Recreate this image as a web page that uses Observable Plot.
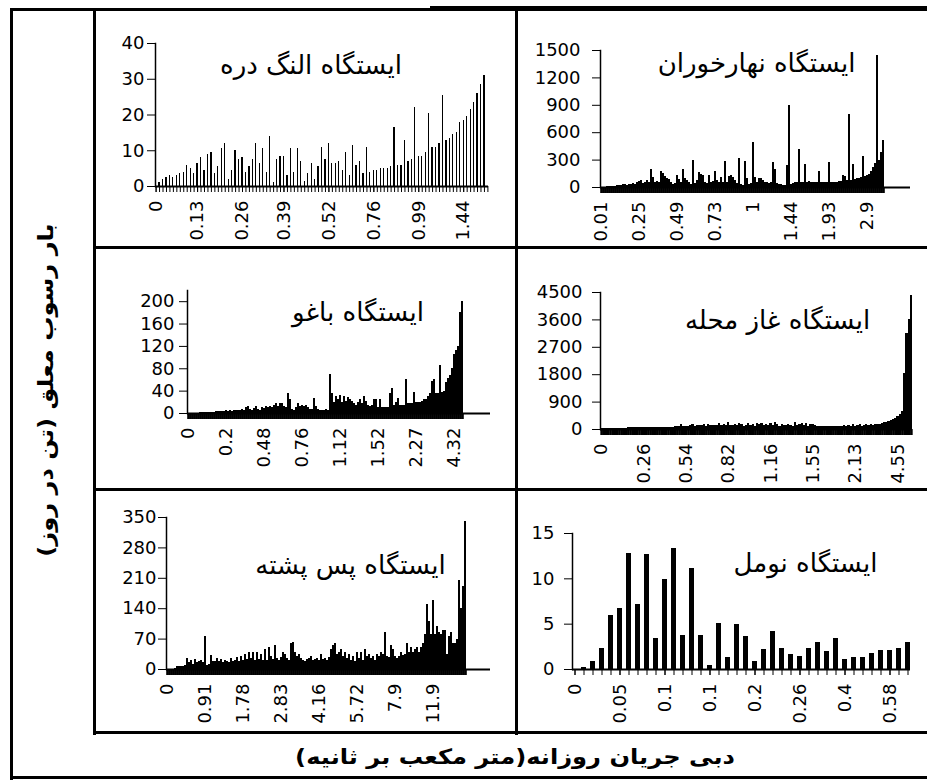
<!DOCTYPE html>
<html><head><meta charset="utf-8">
<script src="https://cdn.jsdelivr.net/npm/d3@7"></script>
<script src="https://cdn.jsdelivr.net/npm/@observablehq/plot@0.6"></script>
<style>
body{margin:0;background:#fff;}
#root{position:relative;width:927px;height:782px;overflow:hidden;background:#fff;}
.ln{position:absolute;background:#000;z-index:5;}
.pn{position:absolute;}
.ttl{position:absolute;font-family:"DejaVu Sans",sans-serif;font-weight:bold;color:#000;white-space:nowrap;}
</style></head><body><div id="root"></div>
<script>
// ---- data ----
const alangTitle = "ایستگاه النگ دره";
const alangLabels = ["0","0.13","0.26","0.39","0.52","0.76","0.99","1.44"];
const alangLabelIdx = [0,12,25,37,50,63,76,89];
const alangValues = [0.5,1,2,2.5,3,2.5,3,3.5,4,6,5,3.5,6.5,8,4.5,9,9.5,3.5,5.5,10.5,12,2,4.5,10,7.5,8,4,5.5,7.5,12,6.5,10.5,4,14,1,7.5,8.5,8.5,3,10.5,4,10.5,7,1.5,3.5,6.5,2,5.5,11,7.5,12,6.5,6.5,7,4.5,9.5,3,11.5,6,7,3.5,11,4,4.5,4.5,5,5,5,5.5,16.5,6,6,13,7,7.5,22,8.5,8.5,9.5,20.5,11,11,12,25.5,13,13.5,14.5,15,18,18.5,19.5,21.5,23.5,26,28.5,31,0];
const alangTicks = [0,10,20,30,40];

const naharTitle = "ایستگاه نهارخوران";
const naharLabels = ["0.01","0.25","0.49","0.73","1","1.44","1.93","2.9"];
const naharLabelIdx = [0,19,38,57,76,95,114,133];
const naharValues = [5,5,5,8,8,10,10,12,20,25,20,30,30,25,35,30,40,30,50,70,75,40,60,80,50,200,110,60,70,50,180,150,120,100,90,60,30,40,130,90,60,200,100,80,50,30,300,40,80,160,140,130,50,40,130,60,70,180,80,60,110,50,290,60,120,130,110,80,40,320,30,20,290,100,30,40,490,110,50,100,100,80,60,50,40,50,270,200,40,30,30,20,20,240,900,30,40,60,50,420,60,50,250,50,70,50,50,50,50,180,50,50,55,55,270,60,60,60,60,65,70,130,120,80,800,80,250,90,100,100,110,340,120,130,140,180,220,260,1450,300,380,520];
const naharTicks = [0,300,600,900,1200,1500];

const baghoTitle = "ایستگاه باغو";
const baghoLabels = ["0","0.2","0.48","0.76","1.12","1.52","2.27","4.32"];
const baghoLabelIdx = [0,19,38,57,76,95,114,133];
const baghoValues = [0,0,0,0.5,0.5,0.5,1,1,1,1,1,1.5,1.5,2,4,3,4,3,4,5,4,5,4,5,6,5,6,8,5,10,12,8,6,9,12,7,6,10,9,12,10,12,10,14,18,12,18,18,12,10,35,25,8,5,10,18,12,15,12,15,10,8,8,27,12,8,6,5,6,7,6,70,35,20,30,25,33,20,30,22,28,25,22,18,15,20,25,18,30,22,15,12,15,25,25,10,25,10,10,10,10,35,45,15,20,27,15,15,15,60,18,18,18,38,20,20,20,22,25,25,30,35,58,60,35,35,85,38,40,55,62,68,80,105,112,120,180,200];
const baghoTicks = [0,40,80,120,160,200];

const ghazTitle = "ایستگاه غاز محله";
const ghazLabels = ["0","0.26","0.54","0.82","1.16","1.55","2.13","4.55"];
const ghazLabelIdx = [0,19,38,57,76,95,114,133];
const ghazValues = [20,20,20,20,20,20,20,20,20,20,20,25,60,55,65,60,70,60,65,55,70,60,65,70,60,75,70,65,80,70,75,80,75,85,90,100,150,90,110,100,120,150,110,130,140,120,160,110,150,130,120,140,120,200,130,180,120,220,140,130,170,120,210,150,100,130,200,120,180,110,200,150,210,120,180,140,200,130,220,150,110,170,130,120,180,140,110,220,130,160,200,120,190,110,150,180,120,110,100,110,100,100,110,100,110,100,110,100,100,120,110,120,100,150,110,120,160,110,130,150,120,170,140,150,160,180,200,220,240,260,300,330,370,420,480,600,1850,3150,3600,4400];
const ghazTicks = [0,900,1800,2700,3600,4500];

const pasTitle = "ایستگاه پس پشته";
const pasLabels = ["0","0.91","1.78","2.83","4.16","5.72","7.9","11.9"];
const pasLabelIdx = [0,19,38,57,76,95,114,133];
const pasValues = [0,0,1,1,2,6,8,8,8,10,25,15,20,12,22,15,18,20,15,77,10,12,32,18,18,25,18,22,15,20,18,16,25,18,20,28,18,30,20,35,22,38,25,38,20,40,22,35,20,45,20,50,30,22,55,25,20,28,40,35,25,20,60,62,40,30,35,25,20,18,22,25,30,20,22,25,20,35,22,25,20,28,45,55,60,35,40,45,30,40,25,35,20,30,18,40,25,40,20,45,30,35,25,30,20,35,30,40,35,85,30,28,55,45,30,25,30,40,32,35,60,40,50,40,45,50,40,50,60,80,150,110,80,160,80,100,85,80,90,90,35,75,85,60,60,70,205,140,190,340];
const pasTicks = [0,70,140,210,280,350];

const nomalTitle = "ایستگاه نومل";
const nomalLabels = ["0","0.05","0.1","0.1","0.2","0.26","0.4","0.58"];
const nomalLabelIdx = [0,5,10,15,20,25,30,35];
const nomalValues = [0.05,0.2,0.9,2.35,6.0,6.7,12.8,7.2,12.7,3.4,9.9,13.3,3.75,11.1,3.75,0.45,5.1,1.3,5.0,3.6,0.9,2.2,4.2,2.35,1.65,1.45,2.35,3.0,2.0,3.4,1.1,1.3,1.3,1.8,2.15,2.15,2.35,3.0];
const nomalTicks = [0,5,10,15];

const yTitle = "بار رسوب معلق (تن در روز)";
const xTitle = "دبی جریان روزانه(متر مکعب بر ثانیه)";

// ---- drawing ----
const root = document.getElementById("root");

function makePanel(c) {
  const N = c.values.length;
  const data = c.values.map((v, i) => ({i, v}));
  const fmt = i => c.labels[c.labelIdx.indexOf(i)];
  const svg = Plot.plot({
    width: c.w, height: c.h,
    marginLeft: c.ml, marginRight: c.mr, marginTop: c.mt, marginBottom: c.mb,
    style: {background: "transparent", color: "black", fontFamily: "DejaVu Sans, sans-serif", fontSize: "18px", overflow: "visible"},
    x: {type: "band", domain: d3.range(N), paddingInner: c.pad, paddingOuter: 0, align: 0},
    y: {domain: c.yDomain},
    marks: [
      Plot.barY(data, {x: "i", y: "v", fill: "black", shapeRendering: "crispEdges"}),
      Plot.axisX({ticks: d3.range(N), tickSize: 6, strokeWidth: c.tw, tickFormat: () => "", label: null}),
      Plot.axisX({ticks: c.labelIdx, tickFormat: fmt, tickRotate: -90, tickSize: 6, tickPadding: 8, label: null, fontSize: 18}),
      Plot.ruleY([0], {stroke: "black", strokeWidth: 2}),
      Plot.frame({anchor: "left", stroke: "black", strokeWidth: 1.5}),
      Plot.axisY({ticks: c.yTicks, tickSize: 8, tickPadding: c.ypad, label: null, fontSize: 18, tickFormat: d => String(d)}),
      Plot.text([c.title], {frameAnchor: "top", dx: c.dx, dy: c.dy, lineAnchor: "middle", fontSize: 26, fontFamily: "DejaVu Sans"})
    ]
  });
  const div = document.createElement("div");
  div.className = "pn";
  div.style.left = c.left + "px";
  div.style.top = c.top + "px";
  div.appendChild(svg);
  root.appendChild(div);
}

makePanel({title: alangTitle, labels: alangLabels, labelIdx: alangLabelIdx, values: alangValues, yTicks: alangTicks, yDomain: [0, 40],
  left: 95, top: 9, w: 422, h: 239, ml: 60, mr: 29, mt: 34, mb: 62, pad: 0.65, tw: 1, ypad: 3, dx: -11, dy: 22});
makePanel({title: naharTitle, labels: naharLabels, labelIdx: naharLabelIdx, values: naharValues, yTicks: naharTicks, yDomain: [0, 1500],
  left: 517, top: 9, w: 410, h: 239, ml: 83, mr: 17, mt: 41, mb: 61, pad: 0, tw: 2.6, ypad: 12, dx: 1, dy: 13});
makePanel({title: baghoTitle, labels: baghoLabels, labelIdx: baghoLabelIdx, values: baghoValues, yTicks: baghoTicks, yDomain: [0, 220],
  left: 95, top: 248, w: 422, h: 242, ml: 92, mr: 27, mt: 42, mb: 77, pad: 0, tw: 2.6, ypad: 5, dx: 19, dy: 22});
makePanel({title: ghazTitle, labels: ghazLabels, labelIdx: ghazLabelIdx, values: ghazValues, yTicks: ghazTicks, yDomain: [0, 4500],
  left: 517, top: 248, w: 410, h: 242, ml: 83, mr: 15, mt: 44, mb: 61, pad: 0, tw: 2.6, ypad: 10, dx: 21, dy: 28});
makePanel({title: pasTitle, labels: pasLabels, labelIdx: pasLabelIdx, values: pasValues, yTicks: pasTicks, yDomain: [0, 350],
  left: 95, top: 490, w: 422, h: 243, ml: 71, mr: 27, mt: 27, mb: 64, pad: 0, tw: 2.6, ypad: 2, dx: 22, dy: 48});
makePanel({title: nomalTitle, labels: nomalLabels, labelIdx: nomalLabelIdx, values: nomalValues, yTicks: nomalTicks, yDomain: [0, 15],
  left: 517, top: 490, w: 410, h: 243, ml: 55, mr: 17, mt: 43, mb: 64, pad: 0.48, tw: 1, ypad: 10, dx: 64, dy: 30});

// frame lines
const lines = [
  [10, 8, 3, 772], [93, 8, 3, 727], [515, 8, 3, 727],
  [10, 8, 917, 3], [430, 6, 497, 5],
  [93, 246, 834, 3], [93, 488, 834, 3], [93, 731, 834, 3], [10, 776, 917, 3]
];
for (const [x, y, w, h] of lines) {
  const d = document.createElement("div");
  d.className = "ln";
  Object.assign(d.style, {left: x + "px", top: y + "px", width: w + "px", height: h + "px"});
  root.appendChild(d);
}

// axis titles
const yt = document.createElement("div");
yt.className = "ttl"; yt.dir = "rtl"; yt.textContent = yTitle;
Object.assign(yt.style, {left: "46px", top: "390px", fontSize: "21px", transform: "translate(-50%,-50%) rotate(-90deg) scaleX(1.15)"});
root.appendChild(yt);
const xt = document.createElement("div");
xt.className = "ttl"; xt.dir = "rtl"; xt.textContent = xTitle;
Object.assign(xt.style, {left: "515px", top: "757px", fontSize: "21px", transform: "translate(-50%,-50%) scaleX(1.15)"});
root.appendChild(xt);
</script></body></html>
